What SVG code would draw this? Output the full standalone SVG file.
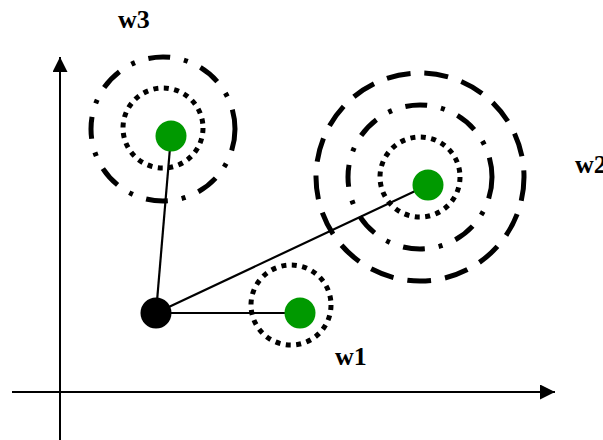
<svg xmlns="http://www.w3.org/2000/svg" width="603" height="440" viewBox="0 0 603 440">
<style>
.axis{stroke:#000;stroke-width:2;fill:none}
.link{stroke:#000;stroke-width:2.2;fill:none}
.dot{fill:none;stroke:#000;stroke-width:5;stroke-dasharray:5 5.5}
.dashdot{fill:none;stroke:#000;stroke-width:5;stroke-dasharray:22 14 4 14}
.dash{fill:none;stroke:#000;stroke-width:5;stroke-dasharray:24 14}
.green{fill:#009900}
.lbl{font-family:"Liberation Serif",serif;font-weight:bold;font-size:26px;fill:#000}
</style>
<defs>
<marker id="arr" viewBox="0 0 10 10" refX="10" refY="5" markerWidth="15" markerHeight="15" markerUnits="userSpaceOnUse" orient="auto">
<path d="M0,0 L10,5 L0,10 z" fill="#000"/>
</marker>
</defs>
<g id="axes">
<line class="axis" x1="60" y1="440" x2="60" y2="57" marker-end="url(#arr)"/>
<line class="axis" x1="12" y1="392" x2="555" y2="392" marker-end="url(#arr)"/>
</g>
<g id="connectors">
<line class="link" x1="156" y1="313" x2="300" y2="313"/>
<line class="link" x1="156" y1="313" x2="171" y2="136"/>
<line class="link" x1="156" y1="313" x2="428" y2="185"/>
</g>
<g id="w3">
<circle class="dashdot" cx="163" cy="129" r="72"/>
<circle class="dot" cx="163" cy="128" r="40"/>
<circle class="green" cx="171" cy="136" r="15.5"/>
<text class="lbl" x="118" y="28">w3</text>
</g>
<g id="w2">
<circle class="dash" cx="420" cy="177" r="104"/>
<circle class="dashdot" cx="420" cy="177" r="72"/>
<circle class="dot" cx="420" cy="177" r="40"/>
<circle class="green" cx="428" cy="185" r="15.5"/>
<text class="lbl" x="575" y="173">w2</text>
</g>
<g id="w1">
<circle class="dot" cx="291" cy="305" r="40"/>
<circle class="green" cx="300" cy="313" r="15.5"/>
<text class="lbl" x="335" y="365">w1</text>
</g>
<g id="origin">
<circle cx="156" cy="313" r="15.5" fill="#000"/>
</g>
</svg>
